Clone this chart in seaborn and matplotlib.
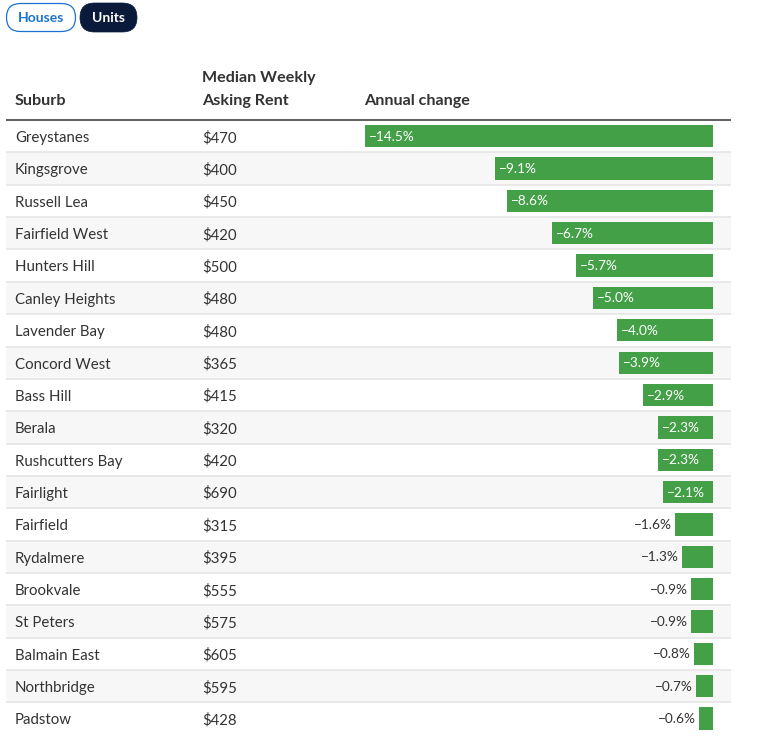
import pandas as pd
import seaborn as sns
import matplotlib.pyplot as plt
from matplotlib.patches import FancyBboxPatch

suburbs = ["Greystanes", "Kingsgrove", "Russell Lea", "Fairfield West", "Hunters Hill",
           "Canley Heights", "Lavender Bay", "Concord West", "Bass Hill", "Berala",
           "Rushcutters Bay", "Fairlight", "Fairfield", "Rydalmere", "Brookvale",
           "St Peters", "Balmain East", "Northbridge", "Padstow"]
rents = [470, 400, 450, 420, 500, 480, 480, 365, 415, 320, 420, 690, 315, 395, 555, 575, 605, 595, 428]
changes = [-14.5, -9.1, -8.6, -6.7, -5.7, -5.0, -4.0, -3.9, -2.9, -2.3, -2.3, -2.1,
           -1.6, -1.3, -0.9, -0.9, -0.8, -0.7, -0.6]

W, H = 779, 738
GREEN = "#43a047"
TEXT = "#333333"
NAVY = "#0a1a3a"
BLUE = "#1a73d0"

sns.set_theme(style="white")
plt.rcParams["font.family"] = ["Lato", "DejaVu Sans"]

df = pd.DataFrame({"suburb": suburbs, "rent": rents, "change": changes})

fig = plt.figure(figsize=(W / 100, H / 100), dpi=100, facecolor="white")

# table body, x=0 sits at the right end of the bars
left, right, top, bottom = 6, 731, 120, 734.8
px_per_unit = 24
zero_px = 713
ax = fig.add_axes([left / W, 1 - bottom / H, (right - left) / W, (bottom - top) / H])

def px(x):
    return (x - zero_px) / px_per_unit

sns.barplot(data=df, x="change", y="suburb", order=suburbs, color=GREEN, saturation=1,
            width=0.69, linewidth=0, ax=ax, zorder=3)
ax.set_xlim(px(left), px(right))
ax.set_ylim(len(df) - 0.5, -0.5)
ax.set_xlabel("")
ax.set_ylabel("")
ax.set_xticks([])
ax.set_yticks([])
sns.despine(ax=ax, left=True, bottom=True, top=True, right=True)

for i, row in df.iterrows():
    if i % 2 == 1:
        ax.axhspan(i - 0.5, i + 0.5, color="#f7f7f7", lw=0, zorder=0)
    if i < len(df) - 1:
        ax.axhline(i + 0.5, color="#e4e4e4", lw=1.1, zorder=1)
    ax.text(px(15), i + 0.18, row["suburb"], color=TEXT, fontsize=10.8, va="baseline", zorder=4)
    ax.text(px(202.5), i + 0.18, f"${row['rent']}", color=TEXT, fontsize=10.8, va="baseline", zorder=4)
    label = f"\u2212{abs(row['change']):.1f}%"
    if row["change"] <= -2:
        ax.text(row["change"] + px(zero_px + 4), i + 0.14, label, color="white", fontsize=9.8,
                va="baseline", ha="left", zorder=4)
    else:
        ax.text(row["change"] - px(zero_px + 3), i + 0.14, label, color=TEXT, fontsize=9.8,
                va="baseline", ha="right", zorder=4)

# header and buttons, in pixels
over = fig.add_axes([0, 0, 1, 1], facecolor="none")
over.set_xlim(0, W)
over.set_ylim(H, 0)
over.axis("off")

over.plot([left, right], [119.5, 119.5], color=TEXT, lw=1.1, solid_capstyle="butt")
over.text(15, 105, "Suburb", color=TEXT, fontsize=11.6, fontweight="bold", va="baseline")
over.text(202.5, 82, "Median Weekly", color=TEXT, fontsize=11.6, fontweight="bold", va="baseline")
over.text(202.5, 105, "Asking Rent", color=TEXT, fontsize=11.6, fontweight="bold", va="baseline")
over.text(364.5, 105, "Annual change", color=TEXT, fontsize=11.6, fontweight="bold", va="baseline")

over.add_patch(FancyBboxPatch((6.5, 3.5), 69, 28, boxstyle="round,pad=0,rounding_size=14",
                              fc="white", ec=BLUE, lw=0.9))
over.text(41, 21.7, "Houses", color=BLUE, fontsize=10, fontweight="bold", ha="center", va="baseline")
over.add_patch(FancyBboxPatch((80, 3), 57, 29, boxstyle="round,pad=0,rounding_size=14.5",
                              fc=NAVY, ec=NAVY, lw=0.5))
over.text(109, 21.7, "Units", color="white", fontsize=10, fontweight="bold", ha="center", va="baseline")

fig.savefig("out.png", dpi=100, facecolor="white")
